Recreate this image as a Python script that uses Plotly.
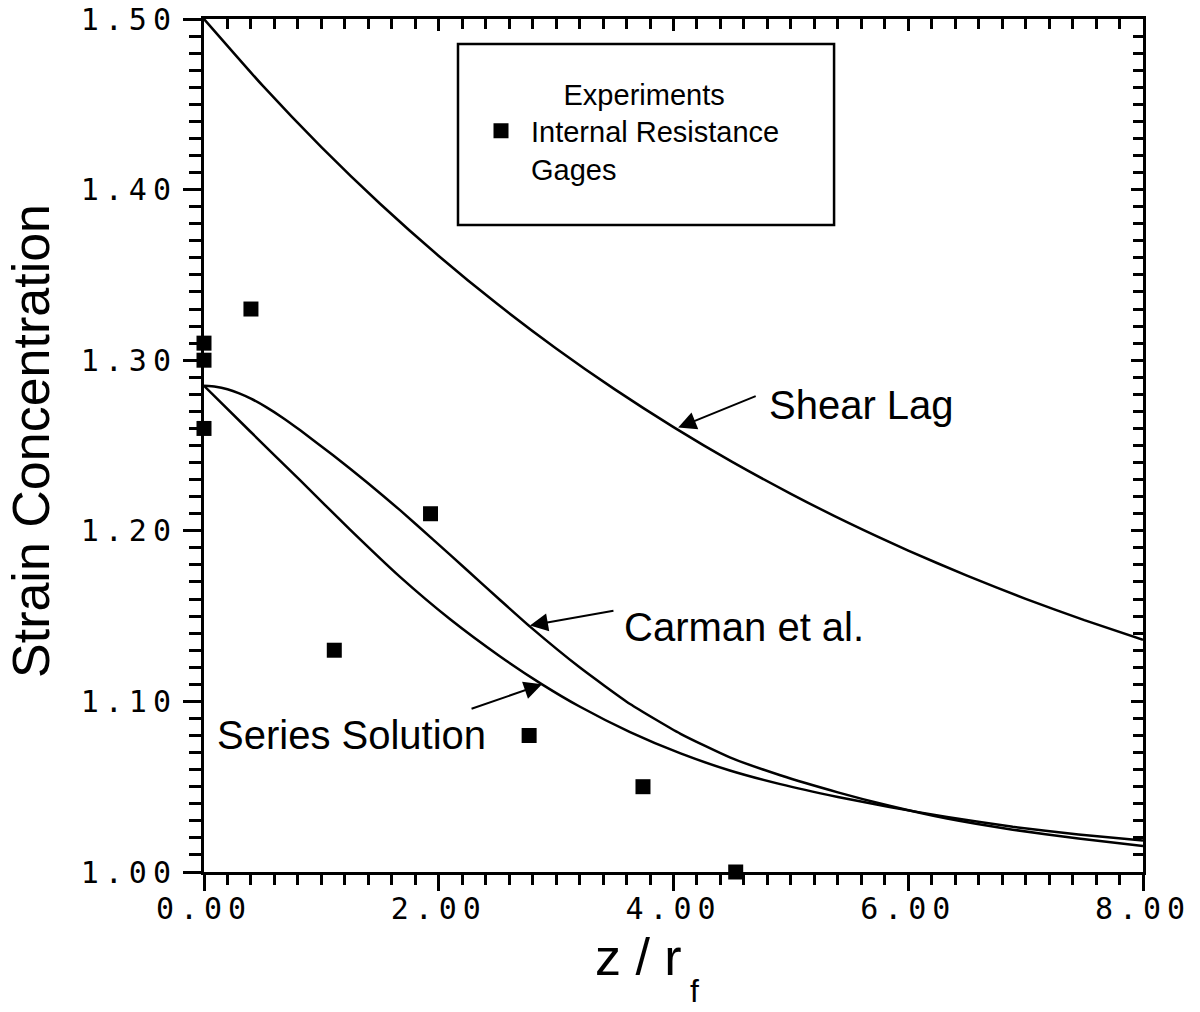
import plotly.graph_objects as go

# ---- data ----
shear_x = [0, 0.5, 1, 1.5, 2, 2.5, 3, 3.5, 4, 4.5, 5, 5.5, 6, 6.5, 7, 7.5, 8]
shear_y = [1.5000, 1.4609, 1.4249, 1.3917, 1.3611, 1.3329, 1.3069, 1.2829, 1.2608,
           1.2404, 1.2217, 1.2043, 1.1884, 1.1737, 1.1601, 1.1476, 1.1361]

carman_x = [0, 0.10, 0.20, 0.30, 0.40, 0.53, 0.67, 0.82, 1.10, 1.39, 1.67, 1.95, 2.24,
            2.52, 2.78, 3.20, 3.63, 4.06, 4.48, 4.91, 5.40, 5.84, 6.33, 6.89, 7.45, 8.00]
carman_y = [1.2850, 1.2845, 1.2830, 1.2806, 1.2775, 1.2725, 1.2663, 1.2589, 1.2443,
            1.2283, 1.2121, 1.1950, 1.1770, 1.1596, 1.1437, 1.1200, 1.0985, 1.0810,
            1.0672, 1.0567, 1.0467, 1.0388, 1.0313, 1.0248, 1.0197, 1.0152]

series_x = [0, 0.39, 0.82, 1.24, 1.67, 2.10, 2.52, 2.88, 3.20, 3.63, 4.06, 4.48,
            4.91, 5.40, 5.84, 6.33, 6.89, 7.45, 8.00]
series_y = [1.2850, 1.2585, 1.2295, 1.2010, 1.1730, 1.1480, 1.1265, 1.1100, 1.0970,
            1.0820, 1.0695, 1.0595, 1.0515, 1.0440, 1.0381, 1.0322, 1.0265, 1.0220,
            1.0185]

exp_x = [0, 0, 0, 0.40, 1.11, 1.93, 2.77, 3.74, 4.53]
exp_y = [1.31, 1.30, 1.26, 1.33, 1.13, 1.21, 1.08, 1.05, 1.00]

x_tickvals = [0, 2, 4, 6, 8]
x_ticklabels = ["0.00", "2.00", "4.00", "6.00", "8.00"]
y_tickvals = [1.0, 1.1, 1.2, 1.3, 1.4, 1.5]
y_ticklabels = ["1.00", "1.10", "1.20", "1.30", "1.40", "1.50"]

TICKFONT = dict(family="DejaVu Sans Mono", size=30, color="black")
TEXTFONT = "Liberation Sans, Arial, sans-serif"


def spaced(s, sp=6):
    return '<span style="letter-spacing:%dpx">%s</span>' % (sp, s)


fig = go.Figure()

line_style = dict(color="black", width=2.5)
for xs, ys in [(shear_x, shear_y), (carman_x, carman_y), (series_x, series_y)]:
    fig.add_trace(go.Scatter(x=xs, y=ys, mode="lines",
                             line=dict(shape="spline", smoothing=0.5, **line_style),
                             showlegend=False, hoverinfo="skip"))
fig.add_trace(go.Scatter(x=exp_x, y=exp_y, mode="markers",
                         marker=dict(symbol="square", size=15, color="black"),
                         name="Internal Resistance<br>Gages", cliponaxis=False))
# helper trace for the mirrored (top/right) axes
fig.add_trace(go.Scatter(x=[], y=[], xaxis="x2", yaxis="y2", showlegend=False, hoverinfo="skip"))

axis_common = dict(showgrid=False, zeroline=False, showline=True, linecolor="black",
                   linewidth=3, tickcolor="black", tickwidth=3)

fig.update_layout(
    width=1200, height=1012,
    margin=dict(l=204, r=57, t=19, b=140, autoexpand=False),
    paper_bgcolor="white", plot_bgcolor="white",
    xaxis=dict(range=[0, 8], tickmode="array", tickvals=x_tickvals,
               ticktext=[spaced(t) for t in x_ticklabels], ticks="outside", ticklen=16,
               tickfont=TICKFONT, ticklabelstandoff=-8,
               minor=dict(ticks="outside", ticklen=10, tickmode="linear", tick0=0, dtick=0.2,
                          tickwidth=3, tickcolor="black"),
               **axis_common),
    yaxis=dict(range=[1.0, 1.5], tickmode="array", tickvals=y_tickvals,
               ticktext=[spaced(t) for t in y_ticklabels], ticks="outside", ticklen=18,
               tickfont=TICKFONT,
               minor=dict(ticks="outside", ticklen=12, tickmode="linear", tick0=1.0, dtick=0.01,
                          tickwidth=3, tickcolor="black"),
               **axis_common),
    xaxis2=dict(range=[0, 8], overlaying="x", side="top", anchor="y", ticks="inside", ticklen=12,
                tickmode="array", tickvals=x_tickvals, showticklabels=False,
                minor=dict(ticks="inside", ticklen=10, tickmode="linear", tick0=0, dtick=0.2,
                           tickwidth=3, tickcolor="black"),
                **axis_common),
    yaxis2=dict(range=[1.0, 1.5], overlaying="y", side="right", anchor="x", ticks="inside", ticklen=12,
                tickmode="array", tickvals=y_tickvals, showticklabels=False,
                minor=dict(ticks="inside", ticklen=10, tickmode="linear", tick0=1.0, dtick=0.01,
                           tickwidth=3, tickcolor="black"),
                **axis_common),
    showlegend=True,
    legend=dict(x=(471 - 204) / 939, y=0.943, xanchor="left", yanchor="top",
                bgcolor="rgba(0,0,0,0)", borderwidth=0, valign="top", itemwidth=50,
                font=dict(family=TEXTFONT, size=29, color="black"),
                title=dict(text="&nbsp;&nbsp;&nbsp;&nbsp;Experiments", side="top center",
                           font=dict(family=TEXTFONT, size=29, color="black"))),
)

# legend frame
fig.add_shape(type="rect", xref="paper", yref="paper", x0=0.2705, x1=0.671, y0=0.7585, y1=0.9707,
              line=dict(color="black", width=2.5), fillcolor="rgba(0,0,0,0)")

# curve labels
lab_font = dict(family=TEXTFONT, size=40, color="black")
fig.add_annotation(x=4.80, y=1.2737, text="Shear Lag", showarrow=False, xanchor="left",
                   yanchor="middle", font=lab_font)
fig.add_annotation(x=3.56, y=1.1436, text="Carman et al.", showarrow=False, xanchor="left",
                   yanchor="middle", font=lab_font)
fig.add_annotation(x=0.094, y=1.0803, text="Series Solution", showarrow=False, xanchor="left",
                   yanchor="middle", font=lab_font)

# arrows
arrow = dict(showarrow=True, arrowhead=2, arrowsize=1.8, arrowwidth=2, arrowcolor="black", text="")
fig.add_annotation(x=4.04, y=1.2605, ax=79, ay=-32, **arrow)
fig.add_annotation(x=2.777, y=1.1445, ax=85, ay=-15, **arrow)
fig.add_annotation(x=2.88, y=1.1100, ax=-72, ay=25, **arrow)

# axis titles
fig.add_annotation(xref="paper", yref="paper", x=(31 - 204) / 939, y=(872 - 441) / 853,
                   text="Strain Concentration", textangle=-90, showarrow=False,
                   xanchor="center", yanchor="middle",
                   font=dict(family=TEXTFONT, size=52, color="black"))
fig.add_annotation(xref="paper", yref="paper", x=(593 - 204) / 939, y=(872 - 957) / 853,
                   text="z / r", showarrow=False, xanchor="left", yanchor="middle",
                   font=dict(family=TEXTFONT, size=52, color="black"))
fig.add_annotation(xref="paper", yref="paper", x=(694 - 204) / 939, y=(872 - 991) / 853,
                   text="f", showarrow=False, xanchor="center", yanchor="middle",
                   font=dict(family=TEXTFONT, size=32, color="black"))

fig.write_html("out.html")
